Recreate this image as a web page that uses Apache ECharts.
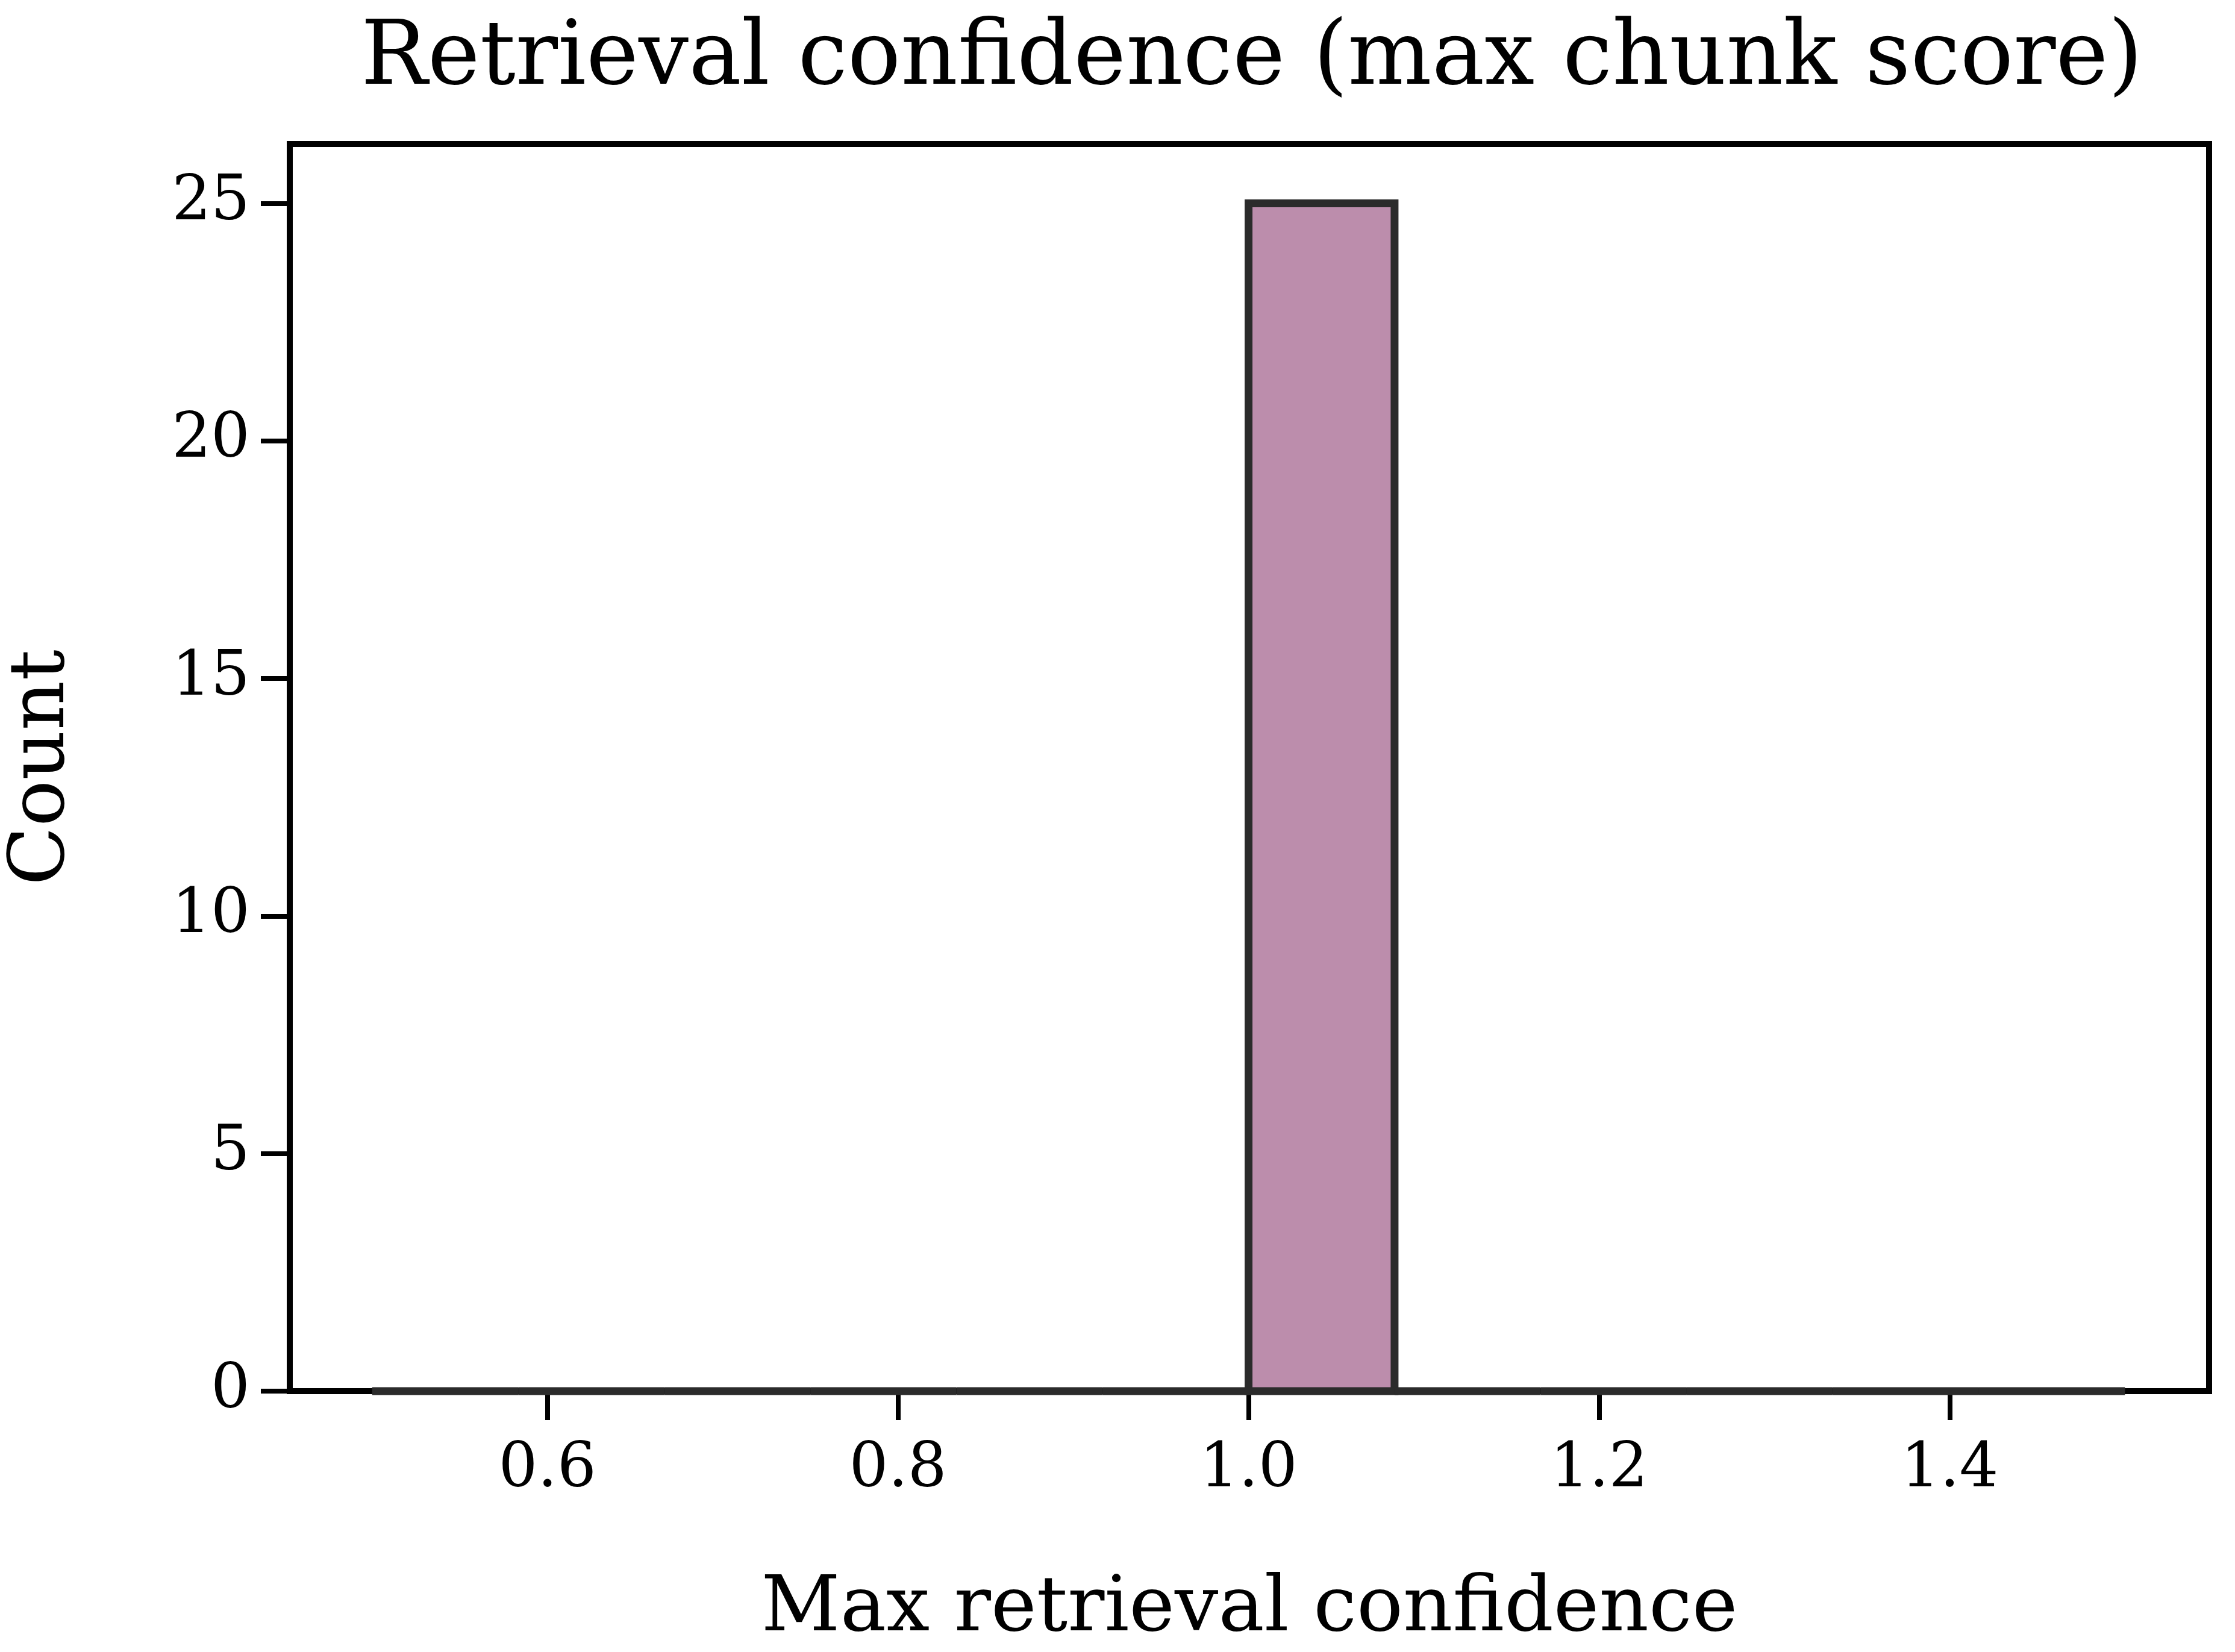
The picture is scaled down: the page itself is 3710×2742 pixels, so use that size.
<!DOCTYPE html>
<html>
<head>
<meta charset="utf-8">
<title>Retrieval confidence</title>
<script src="https://cdn.jsdelivr.net/npm/echarts@6/dist/echarts.min.js"></script>
<style>
  html, body { margin: 0; padding: 0; background: #fff; }
  #chart { width: 3710px; height: 2742px; }
</style>
</head>
<body>
<div id="chart"></div>
<script>
// histogram: 12 bins from 0.5 to 1.5
var binStart = [0.5, 0.5833, 0.6667, 0.75, 0.8333, 0.9167, 1.0, 1.0833, 1.1667, 1.25, 1.3333, 1.4167];
var binEnd   = [0.5833, 0.6667, 0.75, 0.8333, 0.9167, 1.0, 1.0833, 1.1667, 1.25, 1.3333, 1.4167, 1.5];
var counts   = [0, 0, 0, 0, 0, 0, 25, 0, 0, 0, 0, 0];
var xTicks = [0.6, 0.8, 1.0, 1.2, 1.4];
var yTicks = [0, 5, 10, 15, 20, 25];

var font = 'DejaVu Serif';
var data = [];
for (var i = 0; i < counts.length; i++) {
  data.push([binStart[i], binEnd[i], counts[i]]);
}

var myChart = echarts.init(document.getElementById('chart'));
var option = {
  backgroundColor: '#fff',
  title: {
    text: 'Retrieval confidence (max chunk score)',
    left: 2073, top: 22, textAlign: 'center',
    textStyle: { fontFamily: font, fontWeight: 'normal', fontSize: 147, color: '#000' }
  },
  grid: {
    left: 480, right: 43, top: 239, bottom: 421,
    show: true, borderColor: '#000', borderWidth: 10, backgroundColor: 'transparent'
  },
  xAxis: {
    type: 'value', min: 0.453, max: 1.548,
    name: 'Max retrieval confidence', nameLocation: 'middle', nameGap: 300,
    nameTextStyle: { fontFamily: font, fontSize: 128, color: '#000' },
    splitLine: { show: false },
    axisLine: { show: true, lineStyle: { color: '#000', width: 10 } },
    axisTick: { show: true, length: 48, customValues: xTicks, lineStyle: { color: '#000', width: 8 } },
    axisLabel: { customValues: xTicks, fontFamily: font, fontSize: 102, color: '#000', margin: 80,
      formatter: function (v) { return v.toFixed(1); } }
  },
  yAxis: {
    type: 'value', min: 0, max: 26.25,
    name: 'Count', nameLocation: 'middle', nameGap: 345, nameRotate: 90,
    nameTextStyle: { fontFamily: font, fontSize: 128, color: '#000' },
    splitLine: { show: false },
    axisLine: { show: true, lineStyle: { color: '#000', width: 10 } },
    axisTick: { show: true, length: 48, customValues: yTicks, lineStyle: { color: '#000', width: 8 } },
    axisLabel: { customValues: yTicks, fontFamily: font, fontSize: 102, color: '#000', margin: 66 }
  },
  series: [{
    type: 'custom',
    data: data,
    encode: { x: [0, 1], y: 2 },
    renderItem: function (params, api) {
      var p0 = api.coord([api.value(0), 0]);
      var p1 = api.coord([api.value(1), api.value(2)]);
      return {
        type: 'rect',
        shape: { x: p0[0], y: p1[1], width: p1[0] - p0[0], height: p0[1] - p1[1] },
        style: { fill: '#bc8dac', stroke: '#2b2b2b', lineWidth: 13 }
      };
    }
  }]
};
myChart.setOption(option, true);
</script>
</body>
</html>
